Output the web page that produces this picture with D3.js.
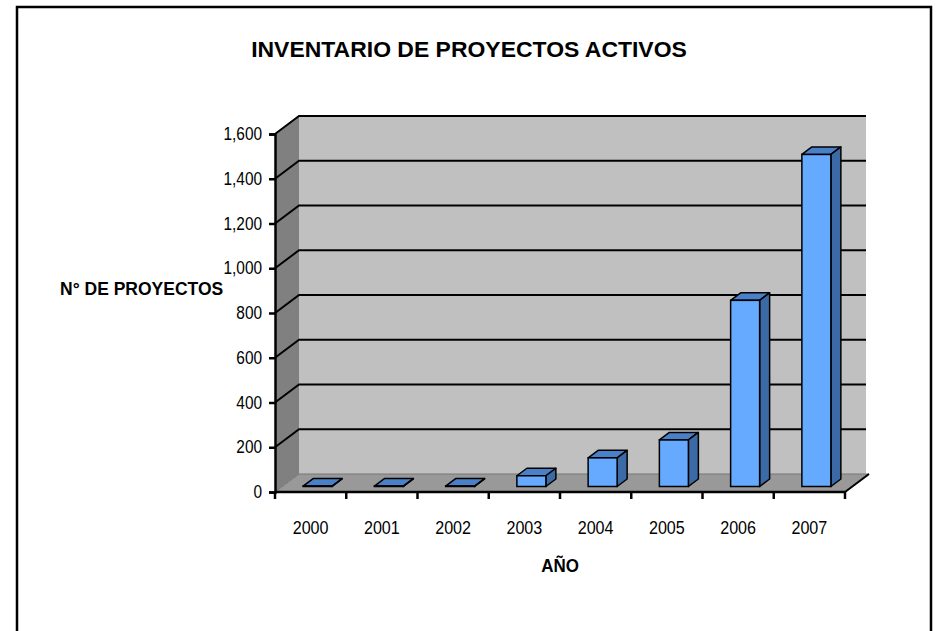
<!DOCTYPE html>
<html>
<head>
<meta charset="utf-8">
<script src="https://cdn.jsdelivr.net/npm/d3@7"></script>
<style>
  body { margin: 0; background: #fff; }
  svg text { font-family: "Liberation Sans", Arial, sans-serif; fill: #000; }
</style>
</head>
<body>
<div id="chart"></div>
<script>
// data
const years = ["2000", "2001", "2002", "2003", "2004", "2005", "2006", "2007"];
const proyectos = [2, 2, 2, 48, 128, 208, 832, 1484];
const yTicks = [0, 200, 400, 600, 800, 1000, 1200, 1400, 1600];

const width = 937, height = 631;
const svg = d3.select("#chart").append("svg")
    .attr("width", width)
    .attr("height", height);

// squeeze Liberation Sans a bit so it looks like the narrow face of the original
function narrow(sel, k) {
    sel.each(function () {
        const w = this.getComputedTextLength();
        d3.select(this)
            .attr("textLength", w * k)
            .attr("lengthAdjust", "spacingAndGlyphs");
    });
}

// outer chart frame (runs off the bottom of the picture)
svg.append("rect")
    .attr("x", 17).attr("y", 7)
    .attr("width", 914).attr("height", 640)
    .attr("fill", "#fff")
    .attr("stroke", "#000")
    .attr("stroke-width", 2.5);

const x = d3.scaleBand().domain(years).range([275, 845]);
const y = d3.scaleLinear().domain([0, 1600]).range([492, 134]);

// 3d depth of the walls and of the bars
const wallDx = 24, wallDy = -18;
const barOffX = 7, barOffY = -5.5;
const barDx = 10, barDy = -7.5;
const barW = 29;

const x0 = x.range()[0], x1 = x.range()[1];
const yTop = y(1600), yBase = y(0);

const walls = svg.append("g");
// back wall
walls.append("rect")
    .attr("x", x0 + wallDx).attr("y", yTop + wallDy)
    .attr("width", x1 - x0 - 3).attr("height", yBase - yTop)
    .attr("fill", "#c0c0c0");
// side wall
walls.append("path")
    .attr("d", `M${x0},${yBase} L${x0},${yTop} L${x0 + wallDx},${yTop + wallDy} L${x0 + wallDx},${yBase + wallDy} Z`)
    .attr("fill", "#808080");
// floor
walls.append("path")
    .attr("d", `M${x0},${yBase} L${x1},${yBase} L${x1 + wallDx},${yBase + wallDy} L${x0 + wallDx},${yBase + wallDy} Z`)
    .attr("fill", "#999999")
    .attr("stroke", "#777")
    .attr("stroke-width", 1);

// gridlines on back wall + diagonals on side wall
const grid = svg.append("g");
yTicks.filter(d => d > 0).forEach(d => {
    grid.append("path")
        .attr("d", `M${x0},${y(d)} L${x0 + wallDx},${y(d) + wallDy} L${x1 + wallDx - 3},${y(d) + wallDy}`)
        .attr("fill", "none")
        .attr("stroke", "#000")
        .attr("stroke-width", 2);
});

// floor right edge
svg.append("line")
    .attr("x1", x1).attr("y1", yBase)
    .attr("x2", x1 + wallDx).attr("y2", yBase + wallDy)
    .attr("stroke", "#000").attr("stroke-width", 2);

// bars
const bars = svg.append("g")
    .selectAll("g")
    .data(years.map((yr, i) => ({ yr, v: proyectos[i] })))
    .enter().append("g");

const fx = d => x(d.yr) + (x.bandwidth() - barW) / 2 + barOffX;
const fy = d => y(d.v) + barOffY;
const by = yBase + barOffY;

bars.append("path") // top
    .attr("d", d => `M${fx(d)},${fy(d)} L${fx(d) + barDx},${fy(d) + barDy} L${fx(d) + barW + barDx},${fy(d) + barDy} L${fx(d) + barW},${fy(d)} Z`)
    .attr("fill", "#4a80c8")
    .attr("stroke", "#000").attr("stroke-width", 1.5).attr("stroke-linejoin", "round");
bars.append("path") // side
    .attr("d", d => `M${fx(d) + barW},${fy(d)} L${fx(d) + barW + barDx},${fy(d) + barDy} L${fx(d) + barW + barDx},${by + barDy} L${fx(d) + barW},${by} Z`)
    .attr("fill", "#3c6aa6")
    .attr("stroke", "#000").attr("stroke-width", 1.5).attr("stroke-linejoin", "round");
bars.append("rect") // front
    .attr("x", fx)
    .attr("y", fy)
    .attr("width", barW)
    .attr("height", d => by - fy(d))
    .attr("fill", "#66aaff")
    .attr("stroke", "#000").attr("stroke-width", 1.5);

// value axis
const yAxis = svg.append("g")
    .attr("transform", `translate(${x0},0)`)
    .call(d3.axisLeft(y).tickValues(yTicks).tickFormat(d3.format(",")).tickSize(6).tickPadding(7));
yAxis.select(".domain").attr("stroke", "#000").attr("stroke-width", 2.5);
yAxis.selectAll(".tick line").attr("stroke", "#000").attr("stroke-width", 2.5);
yAxis.selectAll("text")
    .style("font-family", "'Liberation Sans', Arial, sans-serif")
    .style("font-size", "17.5px").attr("fill", "#000")
    .call(narrow, 0.88);

// category axis
svg.append("line")
    .attr("x1", x0).attr("y1", yBase).attr("x2", x1).attr("y2", yBase)
    .attr("stroke", "#000").attr("stroke-width", 2.5);
const edges = years.map(d => x(d)).concat([x1]);
svg.append("g").selectAll("line")
    .data(edges)
    .enter().append("line")
    .attr("x1", d => d).attr("x2", d => d)
    .attr("y1", yBase).attr("y2", yBase + 7)
    .attr("stroke", "#000").attr("stroke-width", 2.5);
svg.append("g").selectAll("text")
    .data(years)
    .enter().append("text")
    .attr("x", d => x(d) + x.bandwidth() / 2)
    .attr("y", 534)
    .attr("text-anchor", "middle")
    .style("font-size", "17.5px")
    .text(d => d)
    .call(narrow, 0.92);

// titles
svg.append("text")
    .attr("x", 469).attr("y", 57)
    .attr("text-anchor", "middle")
    .style("font-size", "22.5px").style("font-weight", "bold")
    .text("INVENTARIO DE PROYECTOS ACTIVOS")
    .call(narrow, 1.02);
svg.append("text")
    .attr("x", 560).attr("y", 572)
    .attr("text-anchor", "middle")
    .style("font-size", "17.5px").style("font-weight", "bold")
    .text("AÑO")
    .call(narrow, 0.97);
svg.append("text")
    .attr("x", 60).attr("y", 295)
    .style("font-size", "17.5px").style("font-weight", "bold")
    .text("N° DE PROYECTOS")
    .call(narrow, 1.0);
</script>
</body>
</html>
